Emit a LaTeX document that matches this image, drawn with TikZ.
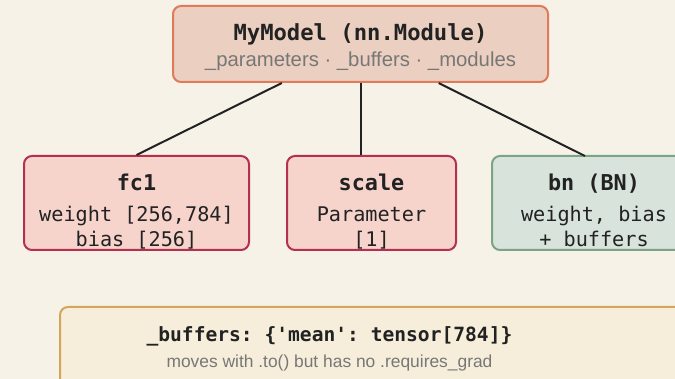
\documentclass[tikz,border=0pt]{standalone}
\usepackage{fontspec}
\setmonofont{DejaVu Sans Mono}
\setsansfont{Liberation Sans}
\definecolor{paper}{HTML}{F6F2E8}
\definecolor{rootfill}{HTML}{EBD0C1}
\definecolor{rootline}{HTML}{E07A5A}
\definecolor{parfill}{HTML}{F6D4CC}
\definecolor{parline}{HTML}{B5304F}
\definecolor{bnfill}{HTML}{D8E3DB}
\definecolor{bnline}{HTML}{7BA487}
\definecolor{buffill}{HTML}{F6EEDA}
\definecolor{bufline}{HTML}{D3A65A}
\definecolor{ink}{HTML}{222222}
\definecolor{muted}{HTML}{777777}
\tikzset{
  box/.style={rectangle, rounded corners=8pt, line width=2pt, inner sep=0pt},
  rootbox/.style={box, draw=rootline, fill=rootfill},
  parbox/.style={box, draw=parline, fill=parfill},
  bnbox/.style={box, draw=bnline, fill=bnfill},
  bufbox/.style={box, draw=bufline, fill=buffill},
  txt/.style={anchor=base, inner sep=0pt, text=ink},
  headbig/.style={txt, font=\fontsize{22.2}{26}\ttfamily\bfseries},
  head/.style={txt, font=\fontsize{21.8}{26}\ttfamily\bfseries},
  headsmall/.style={txt, font=\fontsize{19.6}{24}\ttfamily\bfseries},
  body/.style={txt, font=\fontsize{20.2}{24}\ttfamily},
  notebig/.style={txt, text=muted, font=\fontsize{20.3}{24}\sffamily},
  note/.style={txt, text=muted, font=\fontsize{17.4}{21}\sffamily},
  link/.style={draw=ink, line width=2pt},
}
\begin{document}
\begin{tikzpicture}[x=1pt, y=-1pt]
  \fill[paper] (0,0) rectangle (675,379);
  \useasboundingbox (0,0) rectangle (675,379);
  \clip (0,0) rectangle (675,379);

  % module boxes
  \node[rootbox, minimum width=375pt, minimum height=76pt] (root) at (360.5,44) {};
  \node[parbox, minimum width=225pt, minimum height=94pt] (fc1) at (136.5,203) {};
  \node[parbox, minimum width=169pt, minimum height=94pt] (scale) at (371.5,203) {};
  \node[bnbox, minimum width=204pt, minimum height=94pt] (bn) at (594,203) {};
  \node[bufbox, minimum width=640pt, minimum height=83pt] (buf) at (380,348.5) {};

  % tree links
  \coordinate (bnin) at (585,156);
  \draw[link] (root) -- (fc1.north);
  \draw[link] (root.south) -- (root.south |- scale.north);
  \draw[link] (root) -- (bnin);

  % root text
  \node[headbig] (roott) at (360.5,40.7) {MyModel (nn.Module)};
  \node[notebig] (roots) at (360.5,66.7) {\_parameters · \_buffers · \_modules};

  % fc1 text
  \node[head] (fc1t) at (136.5,190.7) {fc1};
  \node[body] (fc1a) at (136.5,221.7) {weight [256,784]};
  \node[body] (fc1b) at (136.5,246.7) {bias [256]};

  % scale text
  \node[head] (scalet) at (371.5,190.7) {scale};
  \node[body] (scalea) at (371.5,221.7) {Parameter};
  \node[body] (scaleb) at (371.5,246.7) {[1]};

  % bn text
  \node[head] (bnt) at (594,190.7) {bn (BN)};
  \node[body] (bna) at (594,221.7) {weight, bias};
  \node[body] (bnb) at (594,246.7) {+ buffers};

  % buffer note
  \node[headsmall] (buft) at (329.5,341.7) {\_buffers: \{'mean': tensor[784]\}};
  \node[note] (bufs) at (329.5,367.7) {moves with .to() but has no .requires\_grad};
\end{tikzpicture}
\end{document}
